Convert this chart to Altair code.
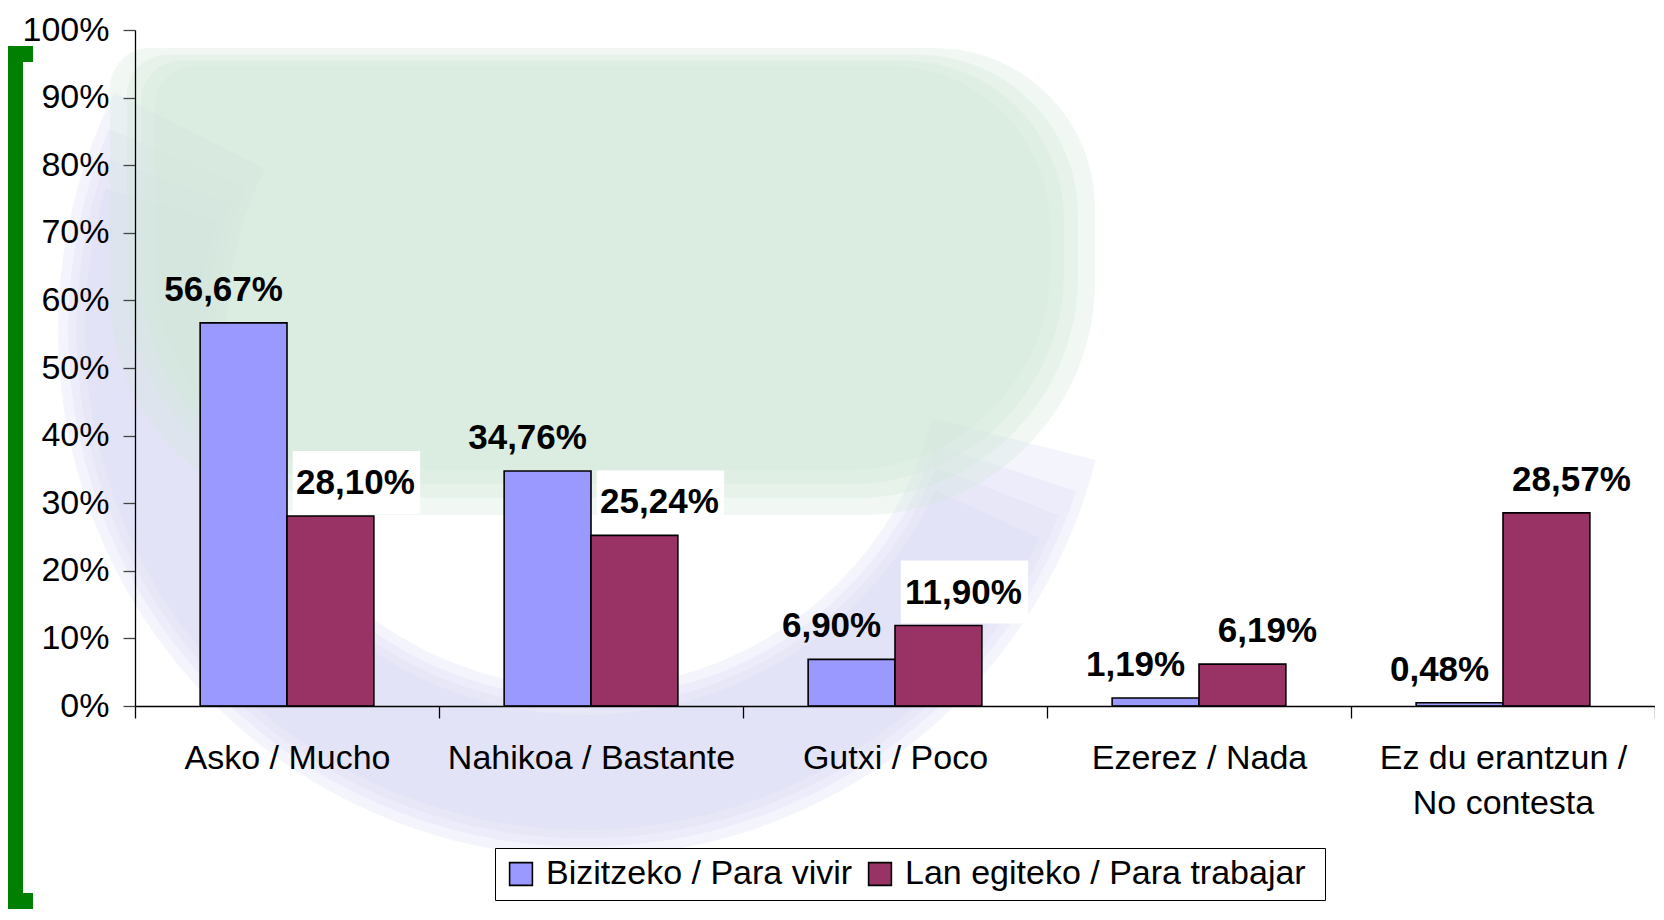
import altair as alt
import pandas as pd

# ---------------- data ----------------
categories = [
    "Asko / Mucho",
    "Nahikoa / Bastante",
    "Gutxi / Poco",
    "Ezerez / Nada",
    "Ez du erantzun / No contesta",
]
series_names = ["Bizitzeko / Para vivir", "Lan egiteko /  Para trabajar"]
vivir = [56.67, 34.76, 6.90, 1.19, 0.48]
trabajar = [28.10, 25.24, 11.90, 6.19, 28.57]
y_ticks = [0, 10, 20, 30, 40, 50, 60, 70, 80, 90, 100]
series_colors = ["#9999FF", "#993366"]

rows = []
for c, v in zip(categories, vivir):
    rows.append({"category": c, "series": series_names[0], "value": v})
for c, v in zip(categories, trabajar):
    rows.append({"category": c, "series": series_names[1], "value": v})
df = pd.DataFrame(rows)
one = pd.DataFrame({"k": [0]})

FONT = "Liberation Sans"
TOP = 22
W, H = 1520, 676

label_expr_x = (
    "datum.value == 'Ez du erantzun / No contesta' "
    "? ['Ez du erantzun /', 'No contesta'] : datum.label"
)

x_enc = alt.X(
    "category:N",
    sort=categories,
    scale=alt.Scale(paddingInner=0, paddingOuter=0),
    axis=alt.Axis(
        title=None,
        labelAngle=0,
        tickBand="extent",
        tickSize=12,
        labelFont=FONT,
        labelFontSize=34,
        labelColor="black",
        labelPadding=23,
        labelLimit=600,
        labelLineHeight=45,
        labelExpr=label_expr_x,
        domainColor="black",
        tickColor="black",
        domainWidth=1.3,
        tickWidth=1.3,
        zindex=1,
    ),
)
xoff = alt.XOffset(
    "series:N", sort=series_names, scale=alt.Scale(paddingInner=0, paddingOuter=0.75)
)
y_enc = alt.Y(
    "value:Q",
    scale=alt.Scale(domain=[0, 100], nice=False),
    axis=alt.Axis(
        title=None,
        values=y_ticks,
        labelExpr="datum.value + '%'",
        grid=False,
        tickSize=12,
        labelFont=FONT,
        labelFontSize=34,
        labelColor="black",
        labelPadding=14,
        domainColor="black",
        tickColor="#444444",
        domainWidth=1.3,
        tickWidth=1.3,
        zindex=1,
    ),
)

base = alt.Chart(df).encode(x=x_enc, xOffset=xoff, y=y_enc)

# ------------- soft background watermark (decorative) -------------
bg_layers = []
for grow in [45, 28, 14, 0]:
    bg_layers.append(
        alt.Chart(one)
        .mark_arc(
            radius=500 + grow * 0.6,
            radius2=385 - grow * 0.6,
            theta=2.0 - grow * 0.004,
            theta2=5.0 + grow * 0.004,
            color="#dcdcf6",
            opacity=0.3,
        )
        .encode(x=alt.value(450), y=alt.value(300))
    )
for grow in [45, 28, 14, 0]:
    bg_layers.append(
        alt.Chart(one)
        .mark_rect(
            color="#cfe7d8",
            opacity=0.3,
            cornerRadiusTopLeft=40,
            cornerRadiusTopRight=160,
            cornerRadiusBottomLeft=220,
            cornerRadiusBottomRight=300,
        )
        .encode(
            x=alt.value(20 - grow),
            x2=alt.value(915 + grow),
            y=alt.value(36 - grow * 0.4),
            y2=alt.value(440 + grow),
        )
    )

# ------------- green bracket at the left -------------
GREEN = "#008000"
br_v = alt.Chart(one).mark_rule(color=GREEN, strokeWidth=16, strokeCap="butt").encode(
    x=alt.value(-120), y=alt.value(16), y2=alt.value(879)
)
br_t = alt.Chart(one).mark_rule(color=GREEN, strokeWidth=16, strokeCap="butt").encode(
    x=alt.value(-128), x2=alt.value(-102), y=alt.value(24)
)
br_b = alt.Chart(one).mark_rule(color=GREEN, strokeWidth=16, strokeCap="butt").encode(
    x=alt.value(-128), x2=alt.value(-102), y=alt.value(871)
)

# ------------- bars -------------
bars = base.mark_bar(stroke="black", strokeWidth=1.6).encode(
    color=alt.Color(
        "series:N",
        sort=series_names,
        scale=alt.Scale(domain=series_names, range=series_colors),
        legend=alt.Legend(
            title=None,
            orient="none",
            legendX=360,
            legendY=818,
            direction="horizontal",
            columns=2,
            labelFont=FONT,
            labelFontSize=34,
            labelColor="black",
            labelLimit=600,
            symbolType="square",
            symbolSize=520,
            symbolStrokeColor="black",
            symbolStrokeWidth=1.6,
            symbolOpacity=1,
            labelOffset=8,
            columnPadding=10,
            padding=9,
            strokeColor="black",
            fillColor="white",
        ),
    )
)

label_calc = "replace(format(datum.value, '.2f'), '.', ',') + '%'"

BOX_PATH = "M -0.58 -1 L 1.38 -1 L 1.38 -0.03 L -0.58 -0.03 Z"
boxes = (
    base.transform_filter(alt.datum.series == series_names[1])
    .mark_point(shape=BOX_PATH, size=16900, filled=True, color="white", opacity=1, strokeWidth=0)
)

text_style = dict(
    baseline="alphabetic",
    fontSize=35,
    fontWeight="bold",
    font=FONT,
    color="black",
    dy=-22,
)
labels_v = (
    base.transform_filter(alt.datum.series == series_names[0])
    .transform_calculate(label=label_calc)
    .mark_text(dx=-20, **text_style)
    .encode(text="label:N")
)
labels_t = (
    base.transform_filter(alt.datum.series == series_names[1])
    .transform_calculate(label=label_calc)
    .mark_text(dx=25, **text_style)
    .encode(text="label:N")
)

chart = (
    alt.layer(*bg_layers, br_v, br_t, br_b, boxes, bars, labels_v, labels_t)
    .properties(
        width=W,
        height=H,
        autosize=alt.AutoSizeParams(type="none"),
        padding={"left": 127, "top": TOP, "right": 0, "bottom": 203},
        background="white",
    )
    .configure_view(stroke=None)
)

chart.save("out.html", embed_options={"renderer": "svg", "actions": False})
